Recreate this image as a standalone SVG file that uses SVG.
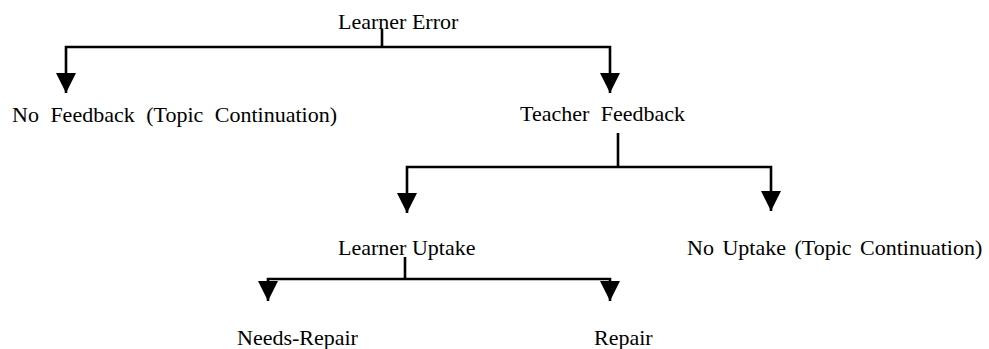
<svg xmlns="http://www.w3.org/2000/svg" width="989" height="349" viewBox="0 0 989 349">
  <style>
    .lbl { font-family: "Liberation Serif", "Times New Roman", serif; font-size: 22px; fill: #000; }
    .wide { word-spacing: 6px; }
    .mid { word-spacing: 3px; }
    .link { fill: none; stroke: #000; stroke-width: 2.6; stroke-linejoin: miter; stroke-linecap: butt; }
  </style>
  <defs>
    <!-- solid downward arrowhead, tip at the end of each branch -->
    <marker id="arrow" markerUnits="userSpaceOnUse" markerWidth="20" markerHeight="20" viewBox="0 -10 20 20" refX="20" refY="0" orient="auto">
      <path d="M0,-10 L20,0 L0,10 Z" fill="#000"/>
    </marker>
  </defs>

  <rect width="989" height="349" fill="#fff"/>

  <!-- connectors -->
  <g id="connectors">
    <!-- Learner Error branches -->
    <path class="link" d="M382,29 V47"/>
    <path class="link" d="M382,47 H66 V93" marker-end="url(#arrow)"/>
    <path class="link" d="M382,47 H610 V93" marker-end="url(#arrow)"/>
    <!-- Teacher Feedback branches -->
    <path class="link" d="M618,133 V167"/>
    <path class="link" d="M618,167 H407 V213" marker-end="url(#arrow)"/>
    <path class="link" d="M618,167 H771 V211" marker-end="url(#arrow)"/>
    <!-- Learner Uptake branches -->
    <path class="link" d="M405,257 V279"/>
    <path class="link" d="M405,279 H268 V301" marker-end="url(#arrow)"/>
    <path class="link" d="M405,279 H610 V301" marker-end="url(#arrow)"/>
  </g>

  <!-- nodes -->
  <g id="learner-error"><text class="lbl" x="338" y="29">Learner Error</text></g>
  <g id="no-feedback"><text class="lbl wide" x="12" y="122">No Feedback (Topic Continuation)</text></g>
  <g id="teacher-feedback"><text class="lbl wide" x="520" y="121">Teacher Feedback</text></g>
  <g id="learner-uptake"><text class="lbl" x="338" y="255">Learner Uptake</text></g>
  <g id="no-uptake"><text class="lbl mid" x="687" y="255">No Uptake (Topic Continuation)</text></g>
  <g id="needs-repair"><text class="lbl" x="237" y="345">Needs-Repair</text></g>
  <g id="repair"><text class="lbl" x="594" y="345">Repair</text></g>
</svg>
